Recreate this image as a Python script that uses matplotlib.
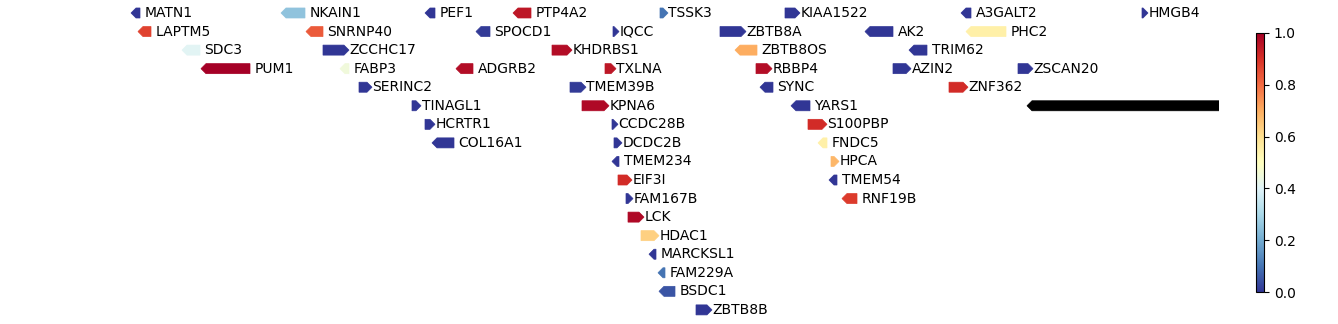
import numpy as np
import matplotlib
matplotlib.use("Agg")
import matplotlib.pyplot as plt
from matplotlib.patches import Polygon
from matplotlib.colors import Normalize

# gene track data: name, start, end, strand (+1/-1), row, score
genes = ["MATN1", "NKAIN1", "PEF1", "PTP4A2", "TSSK3", "KIAA1522", "A3GALT2", "HMGB4",
         "LAPTM5", "SNRNP40", "SPOCD1", "IQCC", "ZBTB8A", "AK2", "PHC2",
         "SDC3", "ZCCHC17", "KHDRBS1", "ZBTB8OS", "TRIM62",
         "PUM1", "FABP3", "ADGRB2", "TXLNA", "RBBP4", "AZIN2", "ZSCAN20",
         "SERINC2", "TMEM39B", "SYNC", "ZNF362",
         "TINAGL1", "KPNA6", "YARS1", "",
         "HCRTR1", "CCDC28B", "S100PBP",
         "COL16A1", "DCDC2B", "FNDC5",
         "TMEM234", "HPCA",
         "EIF3I", "TMEM54",
         "FAM167B", "RNF19B",
         "LCK", "HDAC1", "MARCKSL1", "FAM229A", "BSDC1", "ZBTB8B"]
starts = [131, 281, 425, 513, 660, 785, 961, 1142,
          138, 306, 476, 613, 720, 865, 966,
          182, 323, 552, 735, 909,
          201, 340, 456, 605, 756, 893, 1018,
          359, 570, 760, 949,
          412, 582, 791, 1027,
          425, 612, 808,
          432, 614, 818,
          612, 831,
          618, 829,
          626, 842,
          628, 641, 649, 658, 659, 696]
ends = [140, 305, 435, 531, 668, 800, 971, 1148,
        151, 323, 490, 619, 746, 893, 1006,
        200, 349, 572, 757, 927,
        250, 349, 473, 616, 772, 911, 1033,
        372, 586, 773, 968,
        421, 609, 810, 1300,
        435, 618, 827,
        454, 622, 827,
        619, 839,
        632, 837,
        633, 857,
        644, 659, 656, 665, 675, 712]
strands = [-1, -1, -1, -1, 1, 1, -1, 1,
           -1, -1, -1, 1, 1, -1, -1,
           -1, 1, 1, -1, -1,
           -1, -1, -1, 1, 1, 1, 1,
           1, 1, -1, 1,
           1, 1, -1, -1,
           1, 1, 1,
           -1, 1, -1,
           -1, 1,
           1, -1,
           1, -1,
           1, 1, -1, -1, -1, 1]
rows = [0]*8 + [1]*7 + [2]*5 + [3]*7 + [4]*4 + [5]*4 + [6]*3 + [7]*3 + [8]*2 + [9]*2 + [10]*2 + \
       [11, 12, 13, 14, 15, 16]
scores = [0.0, 0.25, 0.0, 0.95, 0.1, 0.0, 0.0, 0.0,
          0.87, 0.83, 0.01, 0.0, 0.0, 0.0, 0.55,
          0.41, 0.0, 0.97, 0.7, 0.0,
          1.0, 0.45, 0.97, 0.95, 0.97, 0.0, 0.0,
          0.0, 0.01, 0.0, 0.91,
          0.0, 0.98, 0.0, np.nan,
          0.0, 0.0, 0.91,
          0.0, 0.0, 0.55,
          0.0, 0.68,
          0.91, 0.0,
          0.0, 0.88,
          0.98, 0.63, 0.0, 0.1, 0.05, 0.0]

cmap = plt.get_cmap("RdYlBu_r")
norm = Normalize(0, 1)

fig = plt.figure(figsize=(13.38, 3.24), dpi=100)
ax = fig.add_axes([0, 0, 1219/1338, 1])
ax.set_xlim(0, 1219)
ax.set_ylim(16.76, -0.70)
ax.axis("off")

h = 0.27   # half height of a gene arrow
head = 5.0
for name, s, e, st, r, v in zip(genes, starts, ends, strands, rows, scores):
    col = "black" if np.isnan(v) else cmap(norm(v))
    hl = min(head, e - s)
    if st > 0:
        pts = [(s, r - h), (e - hl, r - h), (e, r), (e - hl, r + h), (s, r + h)]
        tx = e + 0.5
    else:
        pts = [(s, r), (s + hl, r - h), (e, r - h), (e, r + h), (s + hl, r + h)]
        tx = e + 4.5
    ax.add_patch(Polygon(pts, closed=True, facecolor=col, edgecolor=col, linewidth=0.5))
    if name:
        ax.text(tx, r, name, va="center", ha="left", fontsize=10)

cax = fig.add_axes([1256/1338, 32/324, 8/1338, 259/324])
sm = plt.cm.ScalarMappable(norm=norm, cmap=cmap)
cb = fig.colorbar(sm, cax=cax)
cb.set_ticks([0.0, 0.2, 0.4, 0.6, 0.8, 1.0])

fig.savefig("out.png", dpi=100)
